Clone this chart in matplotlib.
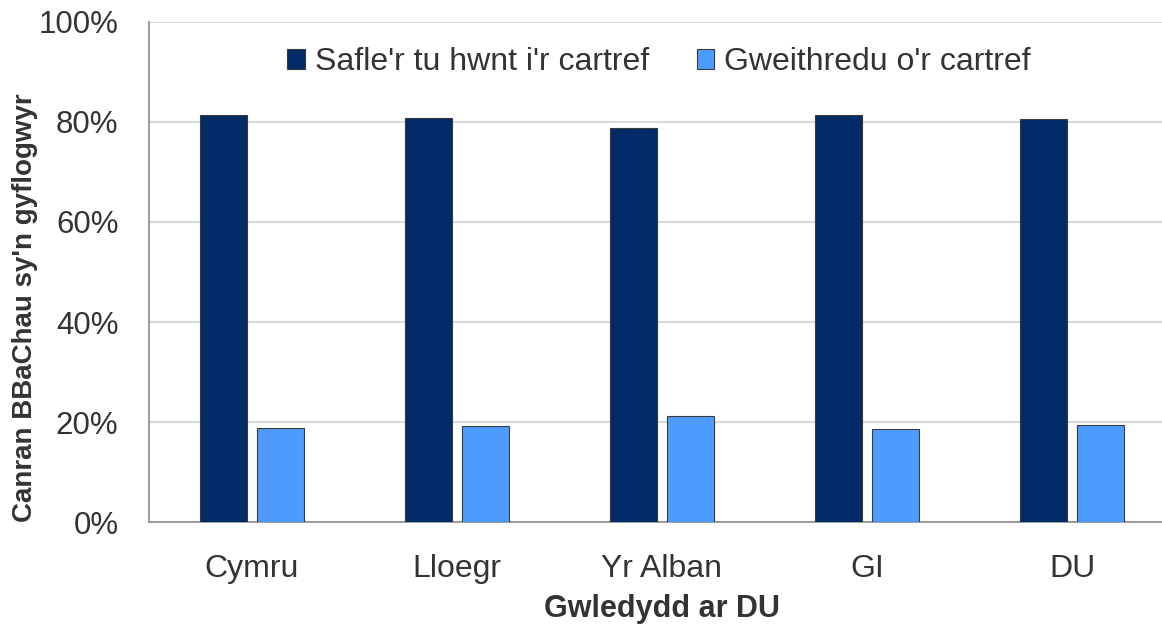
import numpy as np
import matplotlib.pyplot as plt
from matplotlib.ticker import PercentFormatter

plt.rcParams['font.family'] = ['Liberation Sans', 'DejaVu Sans']

# data
categories = ["Cymru", "Lloegr", "Yr Alban", "GI", "DU"]
series_names = ["Safle'r tu hwnt i'r cartref", "Gweithredu o'r cartref"]
outside_home = [81.3, 80.8, 78.7, 81.3, 80.5]
from_home = [18.9, 19.2, 21.2, 18.7, 19.5]

colors = ["#002B66", "#4D9BFF"]
text_color = "#333333"

fig = plt.figure(figsize=(11.62, 6.25), dpi=100)
ax = fig.add_axes([0.1282, 0.1648, 0.883, 0.80])

x = np.arange(len(categories))
w = 0.229
off = 0.139
ax.bar(x - off, outside_home, w, color=colors[0], edgecolor="#3a3a3a", linewidth=0.8,
       label=series_names[0], zorder=3)
ax.bar(x + off, from_home, w, color=colors[1], edgecolor="#3a3a3a", linewidth=0.8,
       label=series_names[1], zorder=3)

ax.set_xlim(-0.5, len(categories) - 0.5)
ax.set_ylim(0, 100)
ax.set_yticks([0, 20, 40, 60, 80, 100])
ax.yaxis.set_major_formatter(PercentFormatter(decimals=0))
ax.set_xticks(x)
ax.set_xticklabels(categories)

ax.grid(axis="y", color="#d9d9d9", linewidth=1.5, zorder=0)
for s in ["top", "right"]:
    ax.spines[s].set_visible(False)
for s in ["left", "bottom"]:
    ax.spines[s].set_color("#8c8c8c")
    ax.spines[s].set_linewidth(1.2)

ax.tick_params(axis="y", length=0, pad=22, labelsize=22.5, labelcolor=text_color)
ax.tick_params(axis="x", length=0, pad=23, labelsize=23, labelcolor=text_color)

ax.set_ylabel("Canran BBaChau sy'n gyflogwyr", fontsize=20, fontweight="bold",
              color=text_color)
ax.yaxis.set_label_coords(-0.108, 0.428)
ax.set_xlabel("Gwledydd ar DU", fontsize=22, fontweight="bold", color=text_color,
              labelpad=7)

ax.legend(loc="center", bbox_to_anchor=(0.497, 0.92), ncol=2, frameon=False,
          fontsize=23, handlelength=0.55, handleheight=0.6, handletextpad=0.3,
          columnspacing=1.5, labelcolor=text_color)

plt.savefig("out.png", dpi=100)
